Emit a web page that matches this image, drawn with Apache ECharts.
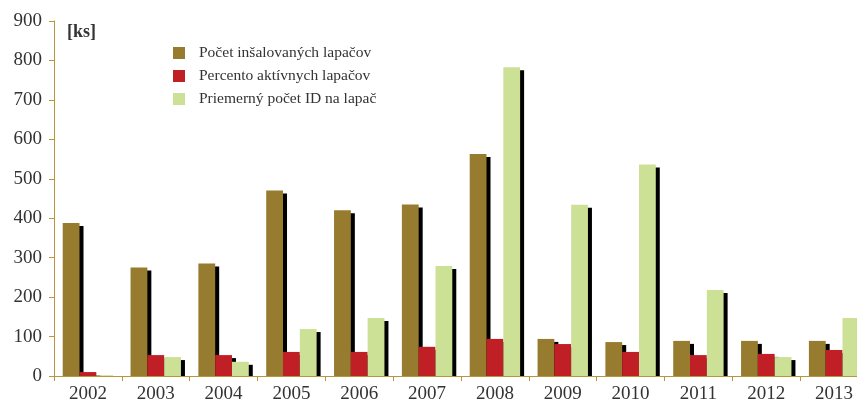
<!DOCTYPE html>
<html><head><meta charset="utf-8">
<script src="https://cdn.jsdelivr.net/npm/echarts@6/dist/echarts.min.js"></script>
<style>html,body{margin:0;padding:0;background:#fff}#c{width:857px;height:403px}</style>
</head><body><div id="c"></div>
<script>
var categories = ['2002','2003','2004','2005','2006','2007','2008','2009','2010','2011','2012','2013'];
var installed = [388,275,285,470,420,435,563,94,86,89,89,89];
var activePct = [10,53,53,61,61,74,94,81,61,53,56,66];
var avgId = [2,48,36,119,147,279,783,434,536,218,48,147];
var seriesNames = ['Počet inšalovaných lapačov','Percento aktívnych lapačov','Priemerný počet ID na lapač'];
var yTicks = {min:0, max:900, interval:100};

var font = '"Liberation Serif","DejaVu Serif",serif';
var axisColor = '#B8963E';
var colors = ['#977B2F','#C01F25','#CDE196'];
function mk(name, data, color){
  return {
    name: name, type: 'bar', data: data, barWidth: 16.8, barGap: '0%',
    itemStyle: {color: color, shadowColor: '#000', shadowBlur: 0, shadowOffsetX: 4, shadowOffsetY: 3},
    emphasis: {disabled: true}, animation: false
  };
}
var chart = echarts.init(document.getElementById('c'));
chart.setOption({
  animation: false,
  title: {text: '[ks]', left: 67, top: 23, padding: 0, textStyle: {fontFamily: font, fontSize: 18, fontWeight: 'bold', color: '#333'}},
  legend: {
    orient: 'vertical', left: 173, top: 45, padding: 0, itemWidth: 12, itemHeight: 12, itemGap: 7,
    icon: 'rect', textStyle: {fontFamily: font, fontSize: 15.5, color: '#333', padding: [0,0,0,9]},
    data: seriesNames
  },
  grid: {left: 54, top: 21, width: 814, height: 355, outerBoundsMode: 'none', containLabel: false},
  xAxis: {
    type: 'category', data: categories, z: 10,
    axisLine: {lineStyle: {color: axisColor, width: 1}},
    axisTick: {show: true, length: 5, lineStyle: {color: axisColor}},
    axisLabel: {fontFamily: font, fontSize: 19, color: '#333', margin: 9}
  },
  yAxis: {
    type: 'value', min: yTicks.min, max: yTicks.max, interval: yTicks.interval, z: 10,
    splitLine: {show: false},
    axisLine: {show: true, lineStyle: {color: axisColor, width: 1}},
    axisTick: {show: true, length: 5, lineStyle: {color: axisColor}},
    axisLabel: {fontFamily: font, fontSize: 19, color: '#333', margin: 12}
  },
  graphic: [{type: 'rect', left: 55, top: 377, z: 5, shape: {width: 830, height: 4}, style: {fill: '#fff'}}],
  series: [mk(seriesNames[0], installed, colors[0]), mk(seriesNames[1], activePct, colors[1]), mk(seriesNames[2], avgId, colors[2])]
});
</script></body></html>
